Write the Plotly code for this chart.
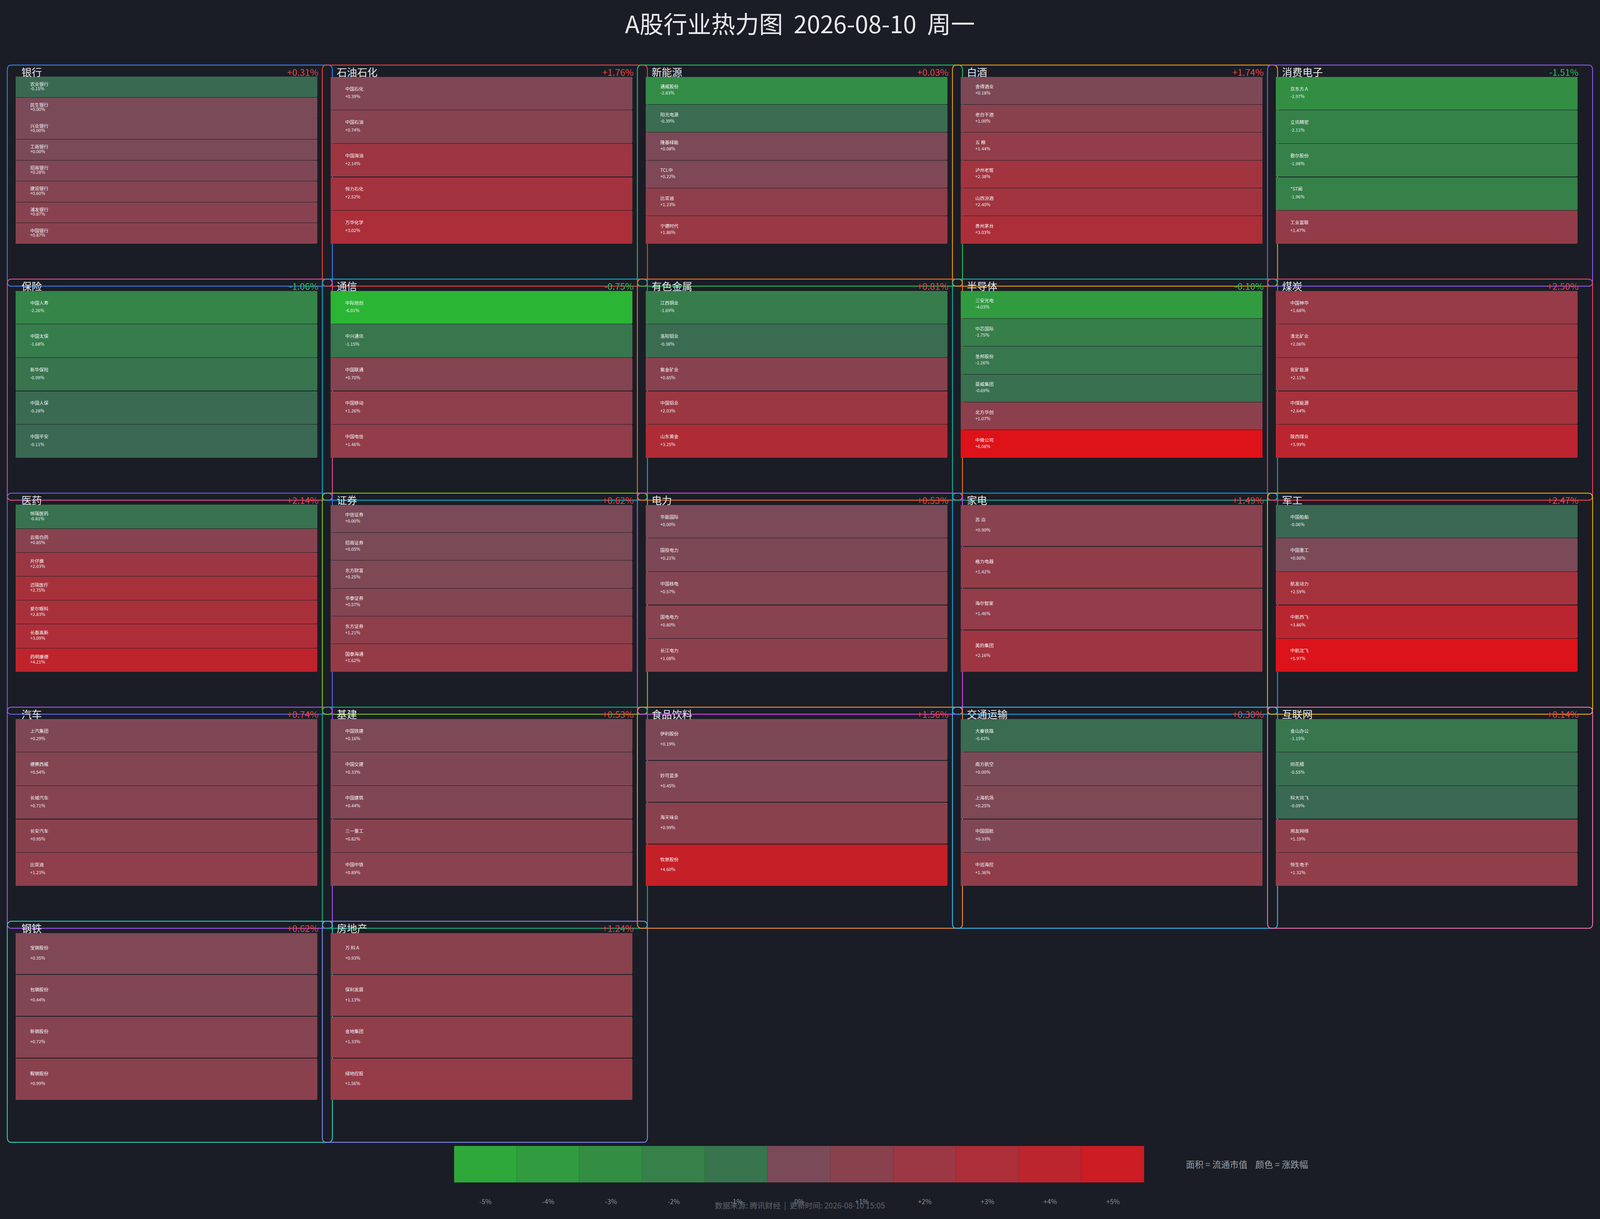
import plotly.graph_objects as go

# ---------------- data ----------------
TITLE = "A股行业热力图  2026-08-10  周一"
FOOTER = "数据来源: 腾讯财经  |  更新时间: 2026-08-10 15:05"
LEGEND_NOTE = "面积 = 流通市值    颜色 = 涨跌幅"

SECTORS = ["银行", "石油石化", "新能源", "白酒", "消费电子",
           "保险", "通信", "有色金属", "半导体", "煤炭",
           "医药", "证券", "电力", "家电", "军工",
           "汽车", "基建", "食品饮料", "交通运输", "互联网",
           "钢铁", "房地产"]

SECTOR_PCT = [0.31, 1.76, 0.03, 1.74, -1.51,
              -1.06, -0.75, 0.81, -0.10, 2.50,
              2.14, 0.62, 0.53, 1.49, 2.47,
              0.74, 0.53, 1.56, 0.30, 0.14,
              0.62, 1.24]

STOCK_NAMES = [
    ["农业银行", "民生银行", "兴业银行", "工商银行", "招商银行", "建设银行", "浦发银行", "中国银行"],
    ["中国石化", "中国石油", "中国海油", "恒力石化", "万华化学"],
    ["通威股份", "阳光电源", "隆基绿能", "TCL中环", "比亚迪", "宁德时代"],
    ["舍得酒业", "老白干酒", "五 粮 液", "泸州老窖", "山西汾酒", "贵州茅台"],
    ["京东方Ａ", "立讯精密", "歌尔股份", "*ST闻泰", "工业富联"],
    ["中国人寿", "中国太保", "新华保险", "中国人保", "中国平安"],
    ["中际旭创", "中兴通讯", "中国联通", "中国移动", "中国电信"],
    ["江西铜业", "洛阳钼业", "紫金矿业", "中国铝业", "山东黄金"],
    ["三安光电", "中芯国际", "圣邦股份", "豪威集团", "北方华创", "中微公司"],
    ["中国神华", "淮北矿业", "兖矿能源", "中煤能源", "陕西煤业"],
    ["恒瑞医药", "云南白药", "片仔癀", "迈瑞医疗", "爱尔眼科", "长春高新", "药明康德"],
    ["中信证券", "招商证券", "东方财富", "华泰证券", "东方证券", "国泰海通"],
    ["华能国际", "国投电力", "中国核电", "国电电力", "长江电力"],
    ["苏 泊 尔", "格力电器", "海尔智家", "美的集团"],
    ["中国船舶", "中国重工", "航发动力", "中航西飞", "中航沈飞"],
    ["上汽集团", "德赛西威", "长城汽车", "长安汽车", "比亚迪"],
    ["中国铁建", "中国交建", "中国建筑", "三一重工", "中国中铁"],
    ["伊利股份", "妙可蓝多", "海天味业", "牧原股份"],
    ["大秦铁路", "南方航空", "上海机场", "中国国航", "中远海控"],
    ["金山办公", "同花顺", "科大讯飞", "用友网络", "恒生电子"],
    ["宝钢股份", "包钢股份", "新钢股份", "鞍钢股份"],
    ["万 科Ａ", "保利发展", "金地集团", "绿地控股"],
]

STOCK_PCT = [
    [-0.15, 0.00, 0.00, 0.00, 0.28, 0.60, 0.87, 0.87],
    [0.39, 0.74, 2.14, 2.52, 3.02],
    [-2.83, -0.39, 0.08, 0.22, 1.23, 1.86],
    [0.18, 1.00, 1.44, 2.38, 2.40, 3.03],
    [-2.97, -2.11, -1.98, -1.96, 1.47],
    [-2.26, -1.68, -0.99, -0.28, -0.11],
    [-6.01, -1.15, 0.70, 1.26, 1.46],
    [-1.69, -0.38, 0.85, 2.03, 3.25],
    [-4.03, -1.75, -1.26, -0.69, 1.07, 6.08],
    [1.68, 2.06, 2.11, 2.64, 3.99],
    [-0.81, 0.85, 2.03, 2.75, 2.83, 3.09, 4.21],
    [0.00, 0.05, 0.25, 0.57, 1.21, 1.62],
    [0.00, 0.21, 0.57, 0.80, 1.08],
    [0.90, 1.42, 1.46, 2.16],
    [-0.06, 0.00, 2.59, 3.86, 5.97],
    [0.29, 0.54, 0.71, 0.95, 1.23],
    [0.16, 0.33, 0.44, 0.82, 0.89],
    [0.19, 0.45, 0.99, 4.60],
    [-0.42, 0.00, 0.25, 0.33, 1.36],
    [-1.15, -0.55, -0.09, 1.19, 1.32],
    [0.35, 0.44, 0.72, 0.99],
    [0.93, 1.13, 1.33, 1.56],
]

LEGEND_VALUES = [-5, -4, -3, -2, -1, 0, 1, 2, 3, 4, 5]
LEGEND_LABELS = ["-5%", "-4%", "-3%", "-2%", "-1%", "0%", "+1%", "+2%", "+3%", "+4%", "+5%"]

# ---------------- styles / layout geometry ----------------
# Geometry measured on the 5148 x 3121 reference, placed as fractions of the
# page; the browser viewport here is 4096 x 3121 CSS px.
REF_W, REF_H = 5148, 3121
W, H = 4096, 3121
FSCALE = 0.9            # font scale (compromise between horizontal/vertical ratio)
BG = "#1a1d25"
FONT = "Noto Sans CJK SC"
NCOL = 5
COL_PITCH, ROW_PITCH = 1013.7, 548.0
BAR_X0, BAR_W, BAR_Y0, BAR_H = 50.0, 971.0, 195.7, 428.3
BOX_X0, BOX_W, BOX_Y0, BOX_H = 23.4, 1046.0, 166.7, 566.0
BOX_COLORS = ["#3b82f6", "#ef4444", "#22c55e", "#f59e0b", "#8b5cf6",
              "#ec4899", "#06b6d4", "#f97316", "#14b8a6", "#f43f5e",
              "#6366f1", "#84cc16", "#d946ef", "#0ea5e9", "#eab308",
              "#a855f7", "#10b981", "#fb923c", "#38bdf8", "#f472b6",
              "#2dd4bf", "#818cf8"]
TEXT_X = 47.0 / BAR_W


def fs(v):
    return v * FSCALE


def px(x):
    return x / REF_W


def py(y):
    return 1 - y / REF_H


def cell_color(p):
    if p < 0:
        a = min(-p, 7.0)
        r, g, b = 58.5 - 2.5 * a, 103 + 13 * a, 83 - 5 * a
    else:
        a = min(p, 7.0)
        r, g, b = 122 + 16.4 * a, 74 - 9.2 * a, 88 - 10.4 * a
    c = [int(max(0, min(255, round(v)))) for v in (r, g, b)]
    return "rgb(%d,%d,%d)" % tuple(c)


def rrect_path(x0, y0, x1, y1, r):
    def P(x, y):
        return "%.6f,%.6f" % (px(x), py(y))
    return ("M " + P(x0 + r, y0) + " L " + P(x1 - r, y0) +
            " Q " + P(x1, y0) + " " + P(x1, y0 + r) +
            " L " + P(x1, y1 - r) +
            " Q " + P(x1, y1) + " " + P(x1 - r, y1) +
            " L " + P(x0 + r, y1) +
            " Q " + P(x0, y1) + " " + P(x0, y1 - r) +
            " L " + P(x0, y0 + r) +
            " Q " + P(x0, y0) + " " + P(x0 + r, y0) + " Z")


fig = go.Figure()
layout = dict(
    width=W, height=H, autosize=False,
    margin=dict(l=0, r=0, t=0, b=0, pad=0),
    paper_bgcolor=BG, plot_bgcolor="rgba(0,0,0,0)",
    showlegend=False, bargap=0,
    font=dict(family=FONT, color="#e5e7eb"),
)
shapes, annotations = [], []

for k, sector in enumerate(SECTORS):
    r, c = divmod(k, NCOL)
    ax = k + 1
    xa = "x" if ax == 1 else "x%d" % ax
    ya = "y" if ax == 1 else "y%d" % ax
    names = STOCK_NAMES[k]
    pcts = STOCK_PCT[k]
    n = len(names)
    bx0 = BAR_X0 + c * COL_PITCH
    by0 = BAR_Y0 + r * ROW_PITCH
    row_h = BAR_H / n
    spacing = 0.268 * row_h - 3.06
    off = spacing / 2 / row_h

    idx = list(range(n))
    fig.add_trace(go.Bar(
        x=[1] * n, y=idx, orientation="h", width=0.985,
        marker=dict(color=[cell_color(p) for p in pcts], line=dict(width=0),
                    cornerradius=3.5),
        hoverinfo="skip", xaxis=xa, yaxis=ya,
    ))
    fig.add_trace(go.Scatter(
        x=[TEXT_X] * n, y=[i - off for i in idx], mode="text",
        text=[nm[:4] for nm in names], textposition="middle right",
        textfont=dict(family=FONT, size=fs(13), color="#f3f4f6"),
        hoverinfo="skip", cliponaxis=False, xaxis=xa, yaxis=ya,
    ))
    fig.add_trace(go.Scatter(
        x=[TEXT_X] * n, y=[i + off for i in idx], mode="text",
        text=["%+.2f%%" % p for p in pcts], textposition="middle right",
        textfont=dict(family=FONT, size=fs(12.5), color="#eceef1"),
        hoverinfo="skip", cliponaxis=False, xaxis=xa, yaxis=ya,
    ))
    key = "xaxis" if ax == 1 else "xaxis%d" % ax
    ykey = "yaxis" if ax == 1 else "yaxis%d" % ax
    layout[key] = dict(domain=[px(bx0), px(bx0 + BAR_W)], range=[0, 1], visible=False,
                       fixedrange=True, anchor=ya)
    layout[ykey] = dict(domain=[py(by0 + BAR_H), py(by0)], range=[n - 0.5, -0.5],
                        visible=False, fixedrange=True, anchor=xa)

    fx0 = BOX_X0 + c * COL_PITCH
    fy0 = BOX_Y0 + r * ROW_PITCH
    shapes.append(dict(type="path", xref="paper", yref="paper", layer="below",
                       path=rrect_path(fx0, fy0, fx0 + BOX_W, fy0 + BOX_H, 13),
                       line=dict(color=BOX_COLORS[k], width=2.2)))
    annotations.append(dict(x=px(bx0 + 17), y=py(fy0 + 17), xref="paper", yref="paper",
                            text=sector, showarrow=False, xanchor="left", yanchor="middle",
                            font=dict(family=FONT, size=fs(29), color="#e5e7eb")))
    sp = SECTOR_PCT[k]
    annotations.append(dict(x=px(bx0 + BAR_W + 6), y=py(fy0 + 17), xref="paper", yref="paper",
                            text="%+.2f%%" % sp, showarrow=False, xanchor="right", yanchor="middle",
                            font=dict(family=FONT, size=fs(26),
                                      color="#ef4444" if sp >= 0 else "#22c55e")))

lk = len(SECTORS) + 1
fig.add_trace(go.Bar(
    x=LEGEND_LABELS, y=[1] * len(LEGEND_LABELS),
    marker=dict(color=[cell_color(v) for v in LEGEND_VALUES],
                line=dict(width=1, color="rgba(0,0,0,0.10)")),
    hoverinfo="skip", xaxis="x%d" % lk, yaxis="y%d" % lk,
))
layout["xaxis%d" % lk] = dict(domain=[px(1461), px(3682)], anchor="y%d" % lk,
                              showgrid=False, zeroline=False, showline=False,
                              ticks="outside", ticklen=33, tickcolor="rgba(0,0,0,0)",
                              tickfont=dict(family=FONT, size=fs(19), color="#8b9099"),
                              fixedrange=True)
layout["yaxis%d" % lk] = dict(domain=[py(3028), py(2934)], anchor="x%d" % lk, range=[0, 1],
                              visible=False, fixedrange=True)

annotations.append(dict(x=0.5, y=py(58), xref="paper", yref="paper", text=TITLE,
                        showarrow=False, xanchor="center", yanchor="middle",
                        font=dict(family=FONT, size=fs(68), color="#e8e9ec")))
annotations.append(dict(x=px(3813), y=py(2980), xref="paper", yref="paper", text=LEGEND_NOTE,
                        showarrow=False, xanchor="left", yanchor="middle",
                        font=dict(family=FONT, size=fs(25), color="#9aa0a8")))
annotations.append(dict(x=px(2574), y=py(3085), xref="paper", yref="paper", text=FOOTER,
                        showarrow=False, xanchor="center", yanchor="middle",
                        font=dict(family=FONT, size=fs(22), color="#5f6470")))

layout["shapes"] = shapes
layout["annotations"] = annotations
fig.update_layout(**layout)
fig.write_html(
    "out.html",
    config={"displayModeBar": False},
    post_script="document.body.style.margin='0';document.body.style.padding='0';"
                "document.body.style.overflow='hidden';"
                "document.body.style.background='%s';"
                "document.documentElement.style.background='%s';" % (BG, BG),
)
